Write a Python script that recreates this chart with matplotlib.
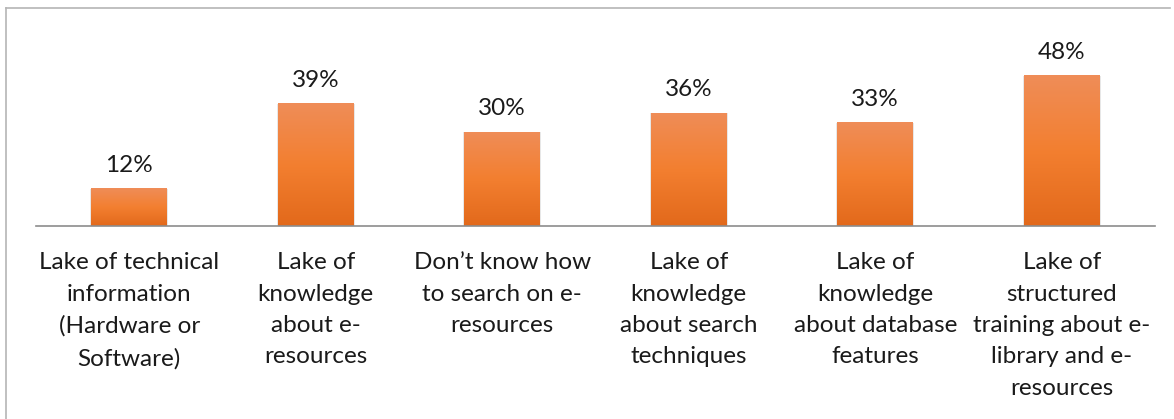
import matplotlib.pyplot as plt
import numpy as np
from matplotlib.colors import LinearSegmentedColormap
from matplotlib.lines import Line2D

categories = [
    "Lake of technical\ninformation\n(Hardware or\nSoftware)",
    "Lake of\nknowledge\nabout e-\nresources",
    "Don\u2019t know how\nto search on e-\nresources",
    "Lake of\nknowledge\nabout search\ntechniques",
    "Lake of\nknowledge\nabout database\nfeatures",
    "Lake of\nstructured\ntraining about e-\nlibrary and e-\nresources",
]
values = [12, 39, 30, 36, 33, 48]

plt.rcParams['font.family'] = ['Lato', 'DejaVu Sans']

fig = plt.figure(figsize=(11.74, 4.19), dpi=100)
W, H = 1174, 419
ax = fig.add_axes([36 / W, 1 - 226 / H, (1155 - 36) / W, (226 - 20) / H])

x = np.arange(len(values))

grad = LinearSegmentedColormap.from_list("org", ["#E2691B", "#F37F30", "#EF8D58"])
shade = np.linspace(0, 1, 256).reshape(-1, 1)

bw = 0.405
for xi, v in zip(x, values):
    # soft shadow
    ax.bar(xi, v - 0.2, width=bw + 0.012, color="#a0a0a0", alpha=0.25, zorder=1)
    b = ax.bar(xi, v, width=bw, color="none", zorder=2)[0]
    im = ax.imshow(shade, cmap=grad, aspect="auto", origin="lower",
                   extent=(xi - bw / 2, xi + bw / 2, 0, v), zorder=2)
    im.set_clip_path(b)
    ax.annotate(f"{v}%", (xi, v), xytext=(0, 9), textcoords="offset points",
                ha="center", va="bottom", fontsize=17.5, color="#1a1a1a")

ax.set_xlim(-0.5, len(values) - 0.5)
ax.set_ylim(0, 65.5)

ax.set_xticks(x)
ax.set_xticklabels(categories, fontsize=17.5, color="#1a1a1a", linespacing=1.61)
ax.tick_params(axis="x", length=0, pad=19)
ax.set_yticks([])
for s in ["top", "right", "left"]:
    ax.spines[s].set_visible(False)
ax.spines["bottom"].set_color("#8c8c8c")
ax.spines["bottom"].set_linewidth(1.2)
ax.spines["bottom"].set_zorder(3)

# chart frame
fig.add_artist(Line2D([6 / W, 1170 / W], [1 - 8 / H, 1 - 8 / H], color="#b5b5b5", lw=1.2))
fig.add_artist(Line2D([6 / W, 6 / W], [0, 1 - 8 / H], color="#b5b5b5", lw=1.2))

fig.savefig("out.png", dpi=100)
